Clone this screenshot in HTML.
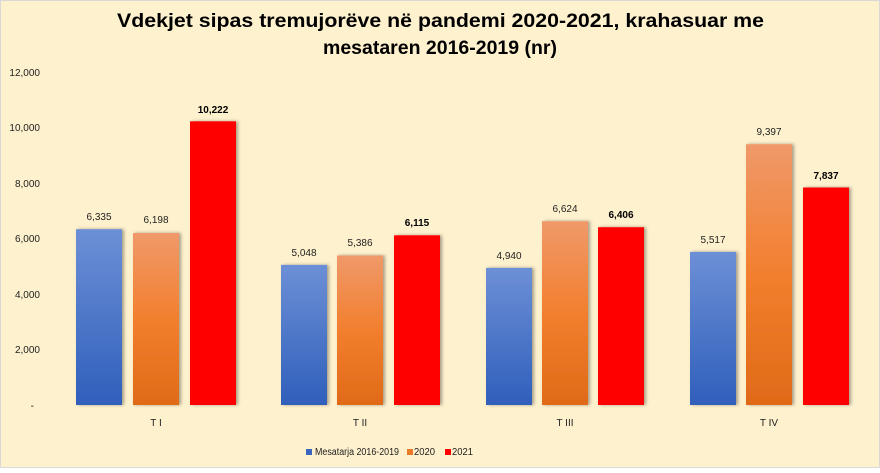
<!DOCTYPE html>
<html><head><meta charset="utf-8"><style>
html,body{margin:0;padding:0}
body{width:880px;height:468px;background:#fff;font-family:"Liberation Sans",sans-serif}
</style></head><body>
<svg width="880" height="468" xmlns="http://www.w3.org/2000/svg" font-family="Liberation Sans, sans-serif">
<defs>
<linearGradient id="gb" x1="0" y1="0" x2="0" y2="1"><stop offset="0" stop-color="#6d8fd6"/><stop offset="1" stop-color="#2f5fbb"/></linearGradient>
<linearGradient id="go" x1="0" y1="0" x2="0" y2="1"><stop offset="0" stop-color="#f0996a"/><stop offset="0.5" stop-color="#f27f2e"/><stop offset="1" stop-color="#e06a18"/></linearGradient>
<filter id="sh" x="-20%" y="-5%" width="150%" height="110%"><feDropShadow dx="2" dy="0" stdDeviation="1.5" flood-color="#000" flood-opacity="0.35"/></filter>
</defs>
<rect x="0.5" y="0.5" width="879" height="467" fill="#fef1cd" stroke="#d9d9d9"/>
<text x="117" y="27" textLength="647" lengthAdjust="spacingAndGlyphs" font-size="19" font-weight="bold" fill="#000">Vdekjet sipas tremujorëve në pandemi 2020-2021, krahasuar me</text>
<text x="323" y="54" textLength="234" lengthAdjust="spacingAndGlyphs" font-size="19" font-weight="bold" fill="#000">mesataren 2016-2019 (nr)</text>
<g font-size="10" fill="#222" text-anchor="end">
<text x="40" y="76">12,000</text><text x="40" y="131">10,000</text><text x="40" y="187">8,000</text>
<text x="40" y="242">6,000</text><text x="40" y="298">4,000</text><text x="40" y="353">2,000</text><text x="34" y="409">-</text>
</g>
<g filter="url(#sh)">
<rect x="76" y="229.2" width="46" height="175.8" fill="url(#gb)"/>
<rect x="133" y="233" width="46" height="172" fill="url(#go)"/>
<rect x="190" y="121.3" width="46" height="283.7" fill="#ff0000"/>
<rect x="281" y="264.9" width="46" height="140.1" fill="url(#gb)"/>
<rect x="337" y="255.5" width="46" height="149.5" fill="url(#go)"/>
<rect x="394" y="235.3" width="46" height="169.7" fill="#ff0000"/>
<rect x="486" y="267.9" width="46" height="137.1" fill="url(#gb)"/>
<rect x="542" y="221.2" width="46" height="183.8" fill="url(#go)"/>
<rect x="598" y="227.2" width="46" height="177.8" fill="#ff0000"/>
<rect x="690" y="251.9" width="46" height="153.1" fill="url(#gb)"/>
<rect x="746" y="144.2" width="46" height="260.8" fill="url(#go)"/>
<rect x="803" y="187.5" width="46" height="217.5" fill="#ff0000"/>
</g>
<g font-size="10" fill="#222" text-anchor="middle">
<text x="99" y="220">6,335</text><text x="156" y="223">6,198</text>
<text x="304" y="256">5,048</text><text x="360" y="246">5,386</text>
<text x="509" y="259">4,940</text><text x="565" y="212">6,624</text>
<text x="713" y="243">5,517</text><text x="769" y="135">9,397</text>
</g>
<g font-size="10" font-weight="bold" fill="#000" text-anchor="middle">
<text x="213" y="113">10,222</text><text x="417" y="226">6,115</text>
<text x="621" y="218">6,406</text><text x="826" y="179">7,837</text>
</g>
<g font-size="10" fill="#222" text-anchor="middle">
<text x="156" y="426">T I</text><text x="360" y="426">T II</text><text x="565" y="426">T III</text><text x="769" y="426">T IV</text>
</g>
<g font-size="10" fill="#222">
<rect x="306" y="449" width="6" height="6" fill="#3a66c0"/><text x="315" y="455" textLength="84" lengthAdjust="spacingAndGlyphs">Mesatarja 2016-2019</text>
<rect x="407" y="449" width="6" height="6" fill="#ec7a28"/><text x="414" y="455" textLength="21" lengthAdjust="spacingAndGlyphs">2020</text>
<rect x="445" y="449" width="6" height="6" fill="#ff0000"/><text x="452" y="455" textLength="21" lengthAdjust="spacingAndGlyphs">2021</text>
</g>
</svg>
</body></html>
